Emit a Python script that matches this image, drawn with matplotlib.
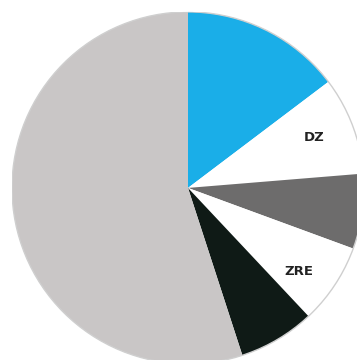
import matplotlib
matplotlib.use("Agg")
import matplotlib.pyplot as plt
import numpy as np

labels = ["", "DZ", "", "ZRE", "", ""]
shares = [14.7, 9.0, 6.9, 7.4, 7.0, 55.0]
colors = ["#1aaee8", "#ffffff", "#6d6c6c", "#ffffff", "#0f1a16", "#c9c6c6"]
# label nudges: (radius, extra degrees)
label_pos = {"DZ": (0.77, 0.8), "ZRE": (0.79, -3.5)}

fig = plt.figure(figsize=(3.57, 3.6), dpi=100)
ax = fig.add_axes([0.0336, -0.011, 0.986, 0.978])

wedges, texts = ax.pie(shares, colors=colors, startangle=90,
                       counterclock=False, wedgeprops={"linewidth": 0})
for w, lab in zip(wedges, labels):
    if not lab:
        continue
    r, da = label_pos[lab]
    ang = np.deg2rad((w.theta1 + w.theta2) / 2 + da)
    ax.text(r * np.cos(ang), r * np.sin(ang), lab, ha="center", va="center",
            fontsize=9.5, fontweight="bold", color="#222222")

circle = plt.Circle((0, 0), 1.0, fill=False, edgecolor="#cfcfcf", linewidth=1.0)
ax.add_patch(circle)
ax.set_xlim(-1, 1)
ax.set_ylim(-1, 1)
ax.set_aspect("equal")
ax.axis("off")

fig.savefig("out.png", dpi=100)
